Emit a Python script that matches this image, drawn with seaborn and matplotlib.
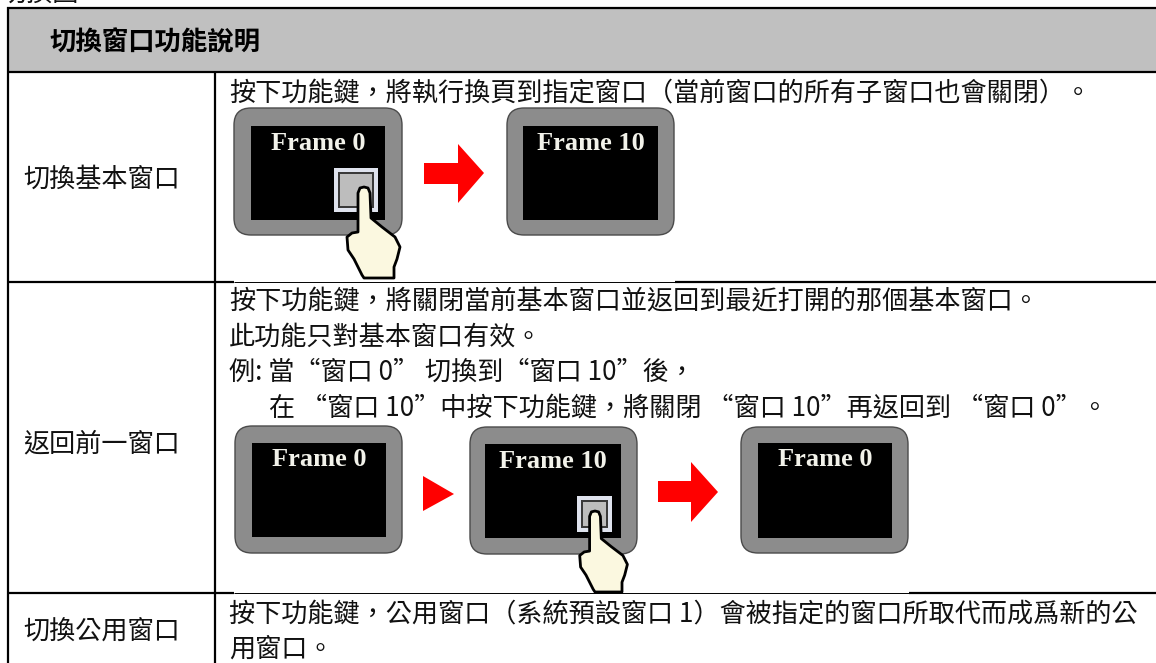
import matplotlib
matplotlib.use("Agg")
import matplotlib.pyplot as plt
import seaborn as sns
from matplotlib.patches import FancyBboxPatch, Polygon, Rectangle

sns.set_theme(style="white")
plt.rcParams["font.family"] = ["Noto Sans CJK TC", "DejaVu Sans"]

W, H = 1156, 663
clip_title = "切換圖"
header = "切換窗口功能說明"
row_labels = ["切換基本窗口", "返回前一窗口", "切換公用窗口"]
row1_lines = ["按下功能鍵\uff0c將執行換頁到指定窗口\uff08當前窗口的所有子窗口也會關閉\uff09。"]
row2_lines = ["按下功能鍵\uff0c將關閉當前基本窗口並返回到最近打開的那個基本窗口。",
              "此功能只對基本窗口有效。",
              "例: 當“窗口 0” 切換到“窗口 10”後\uff0c",
              "在 “窗口 10”中按下功能鍵\uff0c將關閉 “窗口 10”再返回到 “窗口 0”。"]
row3_lines = ["按下功能鍵\uff0c公用窗口\uff08系統預設窗口 1\uff09會被指定的窗口所取代而成爲新的公",
              "用窗口。"]

fig = plt.figure(figsize=(W / 100, H / 100), dpi=100)
ax = fig.add_axes([0, 0, 1, 1])
ax.set_xlim(0, W)
ax.set_ylim(H, 0)
ax.axis("off")

FS = 18.8
TXT = "#111111"


def frame(x0, x1, y0, y1, ix0, ix1, iy0, iy1, label):
    ax.add_patch(FancyBboxPatch((x0 + 16, y0 + 16), x1 - x0 - 32, y1 - y0 - 32,
                 boxstyle="round,pad=16,rounding_size=17", fc="#8c8c8c", ec="#4a4a4a", lw=1.0, zorder=3))
    ax.add_patch(Rectangle((ix0, iy0), ix1 - ix0, iy1 - iy0, fc="black", ec="none", zorder=4))
    ax.text((ix0 + ix1) / 2, iy0 + 17, label, color="#f2f2ea", family="Liberation Serif",
            weight="bold", fontsize=19, ha="center", va="center", zorder=5)


def arrow(x0, xb, x1, ym, s0, s1, h0, h1):
    ax.add_patch(Polygon([(x0, s0), (xb, s0), (xb, h0), (x1, ym), (xb, h1), (xb, s1), (x0, s1)],
                 fc="#ff0000", ec="none", zorder=3))


HAND = [(-6, 6), (-4, 1), (0, 0), (4, 1), (6, 6), (7, 31), (18, 40), (31, 50), (36, 60),
        (33, 72), (30, 80), (30, 91), (0, 91), (-2, 88), (-10, 72), (-16, 63), (-17, 50), (-12, 46), (-6, 45)]


def hand(tx, ty, sx, sy):
    pts = [(tx + a * sx, ty + b * sy) for a, b in HAND]
    ax.add_patch(Polygon(pts, fc="#fbf8e0", ec="black", lw=2.0, joinstyle="round", zorder=7))


def button(x0, x1, y0, y1):
    ax.add_patch(Rectangle((x0, y0), x1 - x0, y1 - y0, fc="#dfe3ee", ec="none", zorder=5))
    ax.add_patch(Rectangle((x0 + 4, y0 + 4), x1 - x0 - 8, y1 - y0 - 8, fc="#3a3a3a", ec="none", zorder=5))
    ax.add_patch(Rectangle((x0 + 6, y0 + 6), x1 - x0 - 12, y1 - y0 - 12, fc="#bdbdbd", ec="none", zorder=5))


# table
ax.add_patch(Rectangle((7, 8), W - 7, 64, fc="#c0c0c0", ec="none", zorder=0))
LW = 1.6
for y in (8, 72):
    ax.plot([7, W], [y, y], color="black", lw=LW, solid_capstyle="butt", zorder=1)
ax.plot([7.7, 7.7], [7, H], color="black", lw=LW, solid_capstyle="butt", zorder=1)
ax.plot([215, 215], [72, H], color="black", lw=LW, solid_capstyle="butt", zorder=1)
for y, gap0, gap1 in ((282, 234, 675), (593, 234, 909)):
    ax.plot([7, gap0], [y, y], color="black", lw=LW, solid_capstyle="butt", zorder=1)
    ax.plot([gap0, gap1], [y, y], color="black", lw=0.7, solid_capstyle="butt", zorder=1)
    ax.plot([gap1, W], [y, y], color="black", lw=LW, solid_capstyle="butt", zorder=1)

ax.text(0, 2, clip_title, fontsize=FS, ha="left", va="baseline", color=TXT)
ax.text(49, 43, header, fontsize=19, weight="bold", ha="left", va="center", color="black")
for label, y in zip(row_labels, (179, 444, 632)):
    ax.text(23, y, label, fontsize=FS, ha="left", va="center", color=TXT)

for line, x, y in zip(row1_lines, [229], [93]):
    ax.text(x, y, line, fontsize=FS, ha="left", va="center", color=TXT)
for line, x, y in zip(row2_lines, [229, 229, 229, 269], [302, 337, 372, 409]):
    ax.text(x, y, line, fontsize=FS, ha="left", va="center", color=TXT)
for line, x, y in zip(row3_lines, [229, 229], [615, 650]):
    ax.text(x, y, line, fontsize=FS, ha="left", va="center", color=TXT)

# row 1 picture
frame(234, 402, 108, 235, 251, 385, 126, 220, "Frame 0")
frame(507, 674, 108, 235, 523, 658, 126, 220, "Frame 10")
arrow(424, 458, 484, 173, 163, 184, 144, 203)
button(334, 378, 168, 212)
hand(364, 187, 1.0, 1.0)

# row 2 picture
frame(235, 402, 426, 553, 252, 386, 443, 537, "Frame 0")
frame(470, 637, 427, 554, 485, 621, 444, 538, "Frame 10")
frame(741, 908, 427, 553, 758, 892, 443, 538, "Frame 0")
ax.add_patch(Polygon([(423, 476), (454, 494), (423, 511)], fc="#ff0000", ec="none", zorder=3))
arrow(658, 691, 718, 492, 481, 502, 462, 522)
button(577, 612, 496, 532)
hand(595, 511, 0.9, 0.89)

fig.savefig("out.png", dpi=100)
